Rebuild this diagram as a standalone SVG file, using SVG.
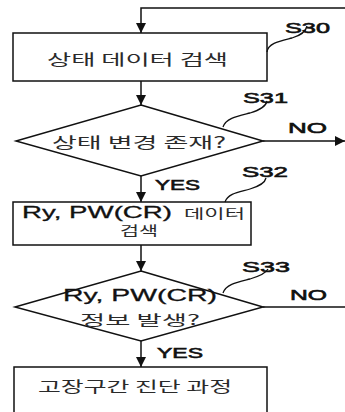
<svg xmlns="http://www.w3.org/2000/svg" width="345" height="412" viewBox="0 0 345 412">
<style>
.shape{fill:#fff;stroke:#111;stroke-width:1.5}
.line{fill:none;stroke:#111;stroke-width:1.5}
.sq{fill:none;stroke:#111;stroke-width:1.3}
.ko{font-family:"Noto Sans CJK KR",sans-serif;fill:#2a2a2a}
.lat{font-family:"Liberation Sans",Arial,sans-serif;fill:#111;stroke:#111;stroke-width:0.3}
.lbl{font-family:"Liberation Sans",Arial,sans-serif;font-size:15px;fill:#111;stroke:#111;stroke-width:0.6}
</style>
<defs>
<marker id="ah" viewBox="0 0 10 10" refX="10" refY="5" markerWidth="10" markerHeight="10" markerUnits="userSpaceOnUse" orient="auto">
<path d="M0,0 L10,5 L0,10 Z" fill="#111"/>
</marker>
</defs>
<rect width="345" height="412" fill="#fff"/>
<g id="connectors">
<path class="line" d="M345,8 L141,8 L141,33" marker-end="url(#ah)"/>
<path class="line" d="M141,81 L141,105" marker-end="url(#ah)"/>
<path class="line" d="M263,141 L345,141" marker-end="url(#ah)"/>
<path class="line" d="M141,176 L141,202" marker-end="url(#ah)"/>
<path class="line" d="M141,245 L141,271" marker-end="url(#ah)"/>
<path class="line" d="M263,307 L345,307"/>
<path class="line" d="M141,341 L141,367" marker-end="url(#ah)"/>
<text class="lbl" x="288" y="133" textLength="39" lengthAdjust="spacingAndGlyphs">NO</text>
<text class="lbl" x="155" y="190" textLength="45" lengthAdjust="spacingAndGlyphs">YES</text>
<text class="lbl" x="290" y="300" textLength="37" lengthAdjust="spacingAndGlyphs">NO</text>
<text class="lbl" x="157" y="358" textLength="46" lengthAdjust="spacingAndGlyphs">YES</text>
</g>
<g id="S30">
<rect class="shape" x="13" y="33" width="254" height="48"/>
<text class="ko" x="47" y="65" font-size="15" textLength="181" lengthAdjust="spacingAndGlyphs">상태 데이터 검색</text>
<path class="sq" d="M267,52 C268,43 280,41 292,38 C302,35 306,31 307,26"/>
<text class="lbl" x="285" y="33" textLength="45" lengthAdjust="spacingAndGlyphs">S30</text>
</g>
<g id="S31">
<polygon class="shape" points="141,105 263,141 141,176 16,141"/>
<text class="ko" x="52" y="148" font-size="15" textLength="174" lengthAdjust="spacingAndGlyphs">상태 변경 존재?</text>
<path class="sq" d="M223,127 C226,118 238,116 250,113 C260,110 266,106 267,101"/>
<text class="lbl" x="243" y="103" textLength="45" lengthAdjust="spacingAndGlyphs">S31</text>
</g>
<g id="S32">
<rect class="shape" x="13" y="202" width="238" height="43"/>
<text x="22" y="218"><tspan class="lat" font-size="17" textLength="150" lengthAdjust="spacingAndGlyphs">Ry, PW(CR)</tspan><tspan class="ko" x="184" font-size="13" textLength="61" lengthAdjust="spacingAndGlyphs">데이터</tspan></text>
<text class="ko" x="120" y="235" font-size="13" textLength="38" lengthAdjust="spacingAndGlyphs">검색</text>
<path class="sq" d="M225,202 C228,193 240,192 250,189 C260,186 265,183 266,178"/>
<text class="lbl" x="242" y="177" textLength="46" lengthAdjust="spacingAndGlyphs">S32</text>
</g>
<g id="S33">
<polygon class="shape" points="141,271 263,307 141,341 15,307"/>
<text class="lat" x="63" y="301" font-size="17" textLength="154" lengthAdjust="spacingAndGlyphs">Ry, PW(CR)</text>
<text class="ko" x="80" y="325" font-size="14" textLength="120" lengthAdjust="spacingAndGlyphs">정보 발생?</text>
<path class="sq" d="M223,293 C226,284 238,282 250,279 C260,276 266,273 268,269"/>
<text class="lbl" x="242" y="272" textLength="48" lengthAdjust="spacingAndGlyphs">S33</text>
</g>
<g id="fault">
<rect class="shape" x="14" y="367" width="253" height="60"/>
<text class="ko" x="38" y="392" font-size="15" textLength="194" lengthAdjust="spacingAndGlyphs">고장구간 진단 과정</text>
</g>
</svg>
